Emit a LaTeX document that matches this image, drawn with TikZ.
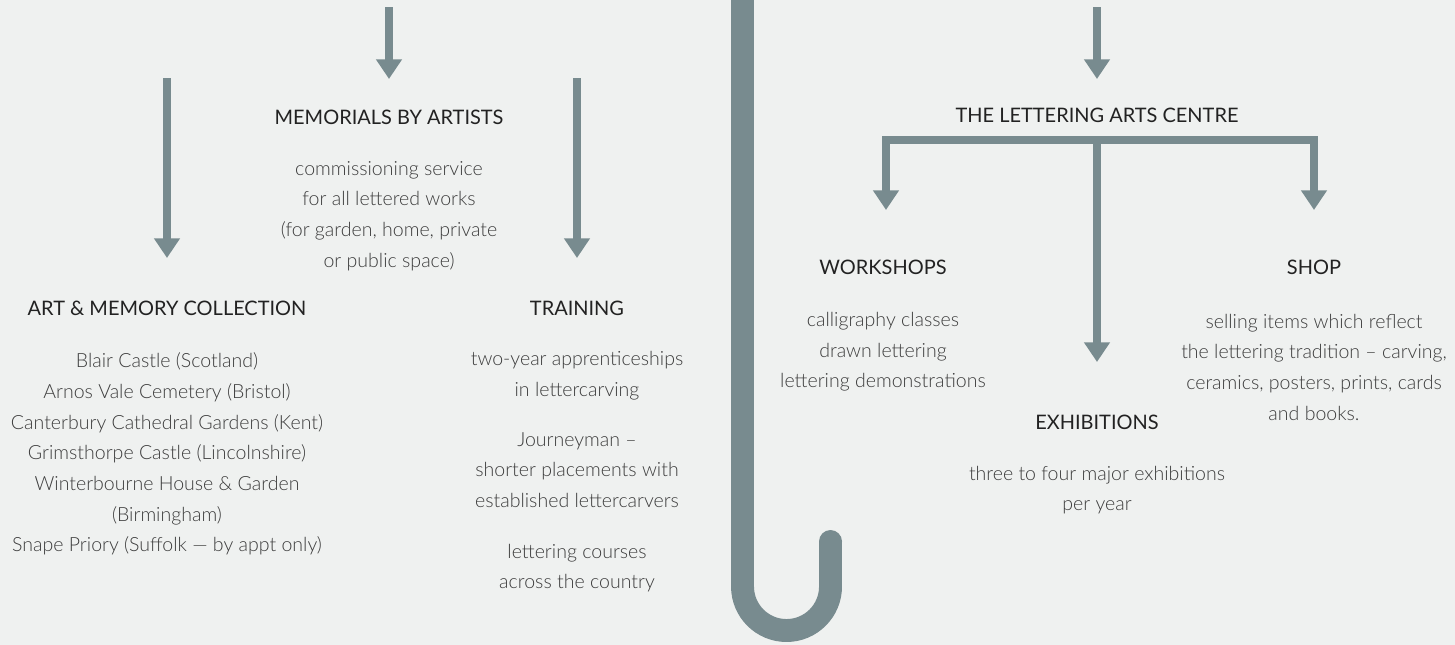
\documentclass[tikz,border=0pt]{standalone}
\usepackage{fontspec}
\setmainfont{Lato}
\newfontfamily\lightfont{Lato Light}
\usetikzlibrary{positioning, arrows.meta}

\definecolor{paper}{HTML}{EFF1F0}
\definecolor{steel}{HTML}{788B8F}
\definecolor{ink}{HTML}{222222}
\definecolor{softink}{HTML}{3C3C3C}

\begin{document}
\begin{tikzpicture}[x=0.025cm, y=-0.025cm,
    flow/.style = {draw=steel, line width=5pt, line join=miter,
                   -{Triangle[width=17.7pt, length=14pt]}},
    head/.style = {inner sep=0pt, text=ink, font=\fontsize{14.2}{17}\selectfont},
    body/.style = {inner sep=0pt, text=softink, align=center,
                   font=\lightfont\fontsize{13.9}{21.8}\selectfont}]

  \fill[paper] (0,0) rectangle (1455,645);
  \useasboundingbox (0,0) rectangle (1455,645);
  \clip (0,0) rectangle (1455,645);

  % the hook between both halves
  \draw[steel, line width=16.3pt] (742.5,-20) -- (742.5,586.5)
    arc[start angle=180, end angle=360, radius=1.1cm] -- (830.5,541.5);
  \fill[steel] (830.5,541.5) circle[radius=0.2875cm];

  % left half
  \coordinate (memtop) at (389,7);
  \coordinate (memtip) at (389,79);
  \coordinate (coltop) at (167,78);
  \coordinate (coltip) at (167,258);
  \coordinate (traintop) at (577,78);
  \coordinate (traintip) at (577,258);

  \node[head] (memhead) at (389,117) {MEMORIALS BY ARTISTS};
  \node[body] (membody) at (389,216) {commissioning service\\for all lettered works\\(for garden, home, private\\or public space)};

  \node[head] (colhead) at (167,308) {ART \& MEMORY COLLECTION};
  \node[body] (colbody) at (167,454) {Blair Castle (Scotland)\\Arnos Vale Cemetery (Bristol)\\Canterbury Cathedral Gardens (Kent)\\Grimsthorpe Castle (Lincolnshire)\\Winterbourne House \& Garden\\(Birmingham)\\Snape Priory (Suffolk — by appt only)};

  \node[head] (trainhead) at (577,308) {TRAINING};
  \node[body] (train1) at (577,376) {two-year apprenticeships\\in lettercarving};
  \node[body] (train2) at (577,470) {Journeyman –\\shorter placements with\\established lettercarvers};
  \node[body] (train3) at (577,568) {lettering courses\\across the country};

  \draw[flow] (memtop) -- (memtip);
  \draw[flow] (coltop) -- (coltip);
  \draw[flow] (traintop) -- (traintip);

  % right half
  \coordinate (lactop) at (1097,7);
  \coordinate (lactip) at (1097,79);
  \coordinate (fork) at (1097,140);
  \coordinate (wstip) at (886,210);
  \coordinate (shoptip) at (1314,210);
  \coordinate (extip) at (1097,362);

  \node[head] (lachead) at (1097,115) {THE LETTERING ARTS CENTRE};

  \node[head] (wshead) at (883,267) {WORKSHOPS};
  \node[body] (wsbody) at (883,352) {calligraphy classes\\drawn lettering\\lettering demonstrations};

  \node[head] (shophead) at (1314,267) {SHOP};
  \node[body] (shopbody) at (1314,367) {selling items which reflect\\the lettering tradition – carving,\\ceramics, posters, prints, cards\\and books.};

  \node[head] (exhead) at (1097,422) {EXHIBITIONS};
  \node[body] (exbody) at (1097,490) {three to four major exhibitions\\per year};

  \draw[flow] (lactop) -- (lactip);
  \draw[flow] (fork) -| (wstip);
  \draw[flow] (fork) -| (shoptip);
  \draw[flow] (fork) -- (extip);
\end{tikzpicture}
\end{document}
